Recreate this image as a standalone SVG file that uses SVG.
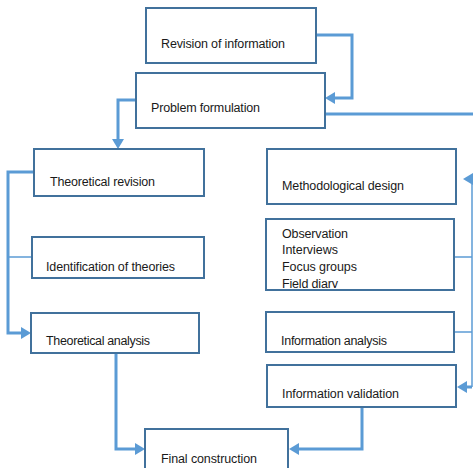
<svg xmlns="http://www.w3.org/2000/svg" width="473" height="468" viewBox="0 0 473 468">
<style>
.box{fill:#fff;stroke:#41719C;stroke-width:2}
.t{font-family:"Liberation Sans",Arial,sans-serif;font-size:12.5px;fill:#1a1a1a}
.c{fill:none;stroke:#5B9BD5;stroke-width:3}
.ct{fill:none;stroke:#5B9BD5;stroke-width:1.5}
.ah{fill:#5B9BD5}
</style>
<defs>
<clipPath id="cIdent"><rect x="32" y="237" width="172" height="35"/></clipPath>
<clipPath id="cObs"><rect x="266" y="219" width="188" height="69"/></clipPath>
<clipPath id="cAna"><rect x="266" y="312" width="188" height="36"/></clipPath>
</defs>
<rect width="473" height="468" fill="#fff"/>
<g id="connectors">
<path class="c" d="M316,35 H352 V98 H333"/>
<polygon class="ah" points="325,98 335,92 335,104"/>
<path class="c" d="M136,100 H118 V140"/>
<polygon class="ah" points="118,149 112,139 124,139"/>
<path class="c" d="M325,114 H473"/>
<path class="c" d="M34,172 H8 V333 H22"/>
<path class="ct" d="M32,257 H8"/>
<polygon class="ah" points="31,333 21,327 21,339"/>
<path class="c" d="M116,353 V449 H136"/>
<polygon class="ah" points="145,449 135,443 135,455"/>
<path class="ct" d="M472,184 V387"/>
<polygon class="ah" points="463,179 473,173 473,185"/>
<path class="ct" d="M454,257 H472"/>
<path class="ct" d="M454,332 H472"/>
<path class="c" d="M472,387 H466"/>
<polygon class="ah" points="457,387 467,381 467,393"/>
<path class="c" d="M362,407 V449 H298"/>
<polygon class="ah" points="289,449 299,443 299,455"/>
</g>
<g id="revision-of-information">
<rect class="box" x="146" y="8" width="170" height="55"/>
<text class="t" x="161" y="48" textLength="124" lengthAdjust="spacing">Revision of information</text>
</g>
<g id="problem-formulation">
<rect class="box" x="136" y="73" width="189" height="55"/>
<text class="t" x="151" y="112" textLength="109" lengthAdjust="spacing">Problem formulation</text>
</g>
<g id="theoretical-revision">
<rect class="box" x="34" y="149" width="170" height="47"/>
<text class="t" x="50" y="186" textLength="105" lengthAdjust="spacing">Theoretical revision</text>
</g>
<g id="identification-of-theories">
<rect class="box" x="32" y="237" width="172" height="41"/>
<text class="t" x="46" y="271" textLength="129" lengthAdjust="spacing" clip-path="url(#cIdent)">Identification of theories</text>
</g>
<g id="theoretical-analysis">
<rect class="box" x="31" y="313" width="168" height="40"/>
<text class="t" x="46" y="345" textLength="104" lengthAdjust="spacing">Theoretical analysis</text>
</g>
<g id="final-construction">
<rect class="box" x="145" y="429" width="143" height="45"/>
<text class="t" x="161" y="463" textLength="96" lengthAdjust="spacing">Final construction</text>
</g>
<g id="methodological-design">
<rect class="box" x="267" y="149" width="189" height="55"/>
<text class="t" x="282" y="190" textLength="122" lengthAdjust="spacing">Methodological design</text>
</g>
<g id="techniques">
<rect class="box" x="266" y="219" width="188" height="71"/>
<g clip-path="url(#cObs)">
<text class="t" x="282" y="238" textLength="66" lengthAdjust="spacing">Observation</text>
<text class="t" x="282" y="254" textLength="56" lengthAdjust="spacing">Interviews</text>
<text class="t" x="282" y="271" textLength="75" lengthAdjust="spacing">Focus groups</text>
<text class="t" x="282" y="288" textLength="56" lengthAdjust="spacing">Field diary</text>
</g>
</g>
<g id="information-analysis">
<rect class="box" x="266" y="312" width="188" height="40"/>
<text class="t" x="281" y="345" textLength="106" lengthAdjust="spacing" clip-path="url(#cAna)">Information analysis</text>
</g>
<g id="information-validation">
<rect class="box" x="267" y="365" width="189" height="42"/>
<text class="t" x="282" y="398" textLength="117" lengthAdjust="spacing">Information validation</text>
</g>
</svg>
